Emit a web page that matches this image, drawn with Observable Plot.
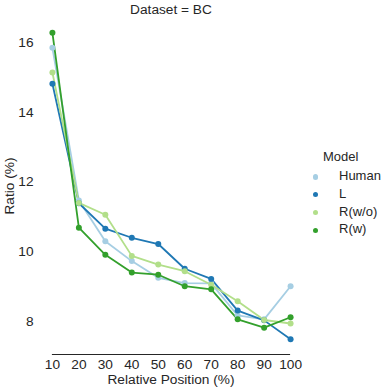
<!DOCTYPE html>
<html>
<head>
<meta charset="utf-8">
<script src="https://cdn.jsdelivr.net/npm/d3@7"></script>
<script src="https://cdn.jsdelivr.net/npm/@observablehq/plot@0.6"></script>
<style>
  html, body { margin: 0; padding: 0; background: #fff; }
  #wrap { position: relative; width: 391px; height: 391px; font-family: "Liberation Sans", Arial, sans-serif; color: #262626; }
  .lab { position: absolute; font-size: 13.7px; white-space: nowrap; line-height: 1.12; }
  .leg { font-size: 13px; }
  #chart { position: absolute; left: 0; top: 0; }
</style>
</head>
<body>
<div id="wrap">
  <div id="chart"></div>
</div>
<script>
const title = "Dataset = BC";
const xLabel = "Relative Position (%)";
const yLabel = "Ratio (%)";
const legendTitle = "Model";
const positions = [10, 20, 30, 40, 50, 60, 70, 80, 90, 100];
const yTicks = [8, 10, 12, 14, 16];
const models = ["Human", "L", "R(w/o)", "R(w)"];
const colors = ["#a6cee3", "#1f78b4", "#b2df8a", "#33a02c"];
const human = [15.85, 11.47, 10.30, 9.73, 9.25, 9.10, 9.09, 8.17, 8.06, 9.01];
const modelL = [14.82, 11.39, 10.66, 10.40, 10.22, 9.51, 9.22, 8.31, 8.03, 7.49];
const rwo = [15.14, 11.40, 11.06, 9.88, 9.63, 9.44, 9.05, 8.58, 8.04, 7.94];
const rw = [16.28, 10.69, 9.91, 9.40, 9.34, 9.01, 8.92, 8.06, 7.82, 8.12];

const series = [human, modelL, rwo, rw];
const rows = [];
models.forEach((m, i) => positions.forEach((p, j) => rows.push({model: m, x: p, y: series[i][j]})));

const allY = rows.map(d => d.y);
const yMin = d3.min(allY), yMax = d3.max(allY);
const pad = (yMax - yMin) * 0.05;
const yDomain = [yMin - pad, yMax + pad];
const xSpan = d3.max(positions) - d3.min(positions);
const xDomain = [d3.min(positions) - xSpan * 0.05, d3.max(positions) + xSpan * 0.05];

const W = 391, H = 391, mL = 40, mR = 89, mT = 17, mB = 37;

const plot = Plot.plot({
  width: W, height: H,
  marginLeft: mL, marginRight: mR, marginTop: mT, marginBottom: mB,
  style: {fontSize: "13.7px", fontFamily: "'Liberation Sans', Arial, sans-serif", color: "#262626", background: "white"},
  x: {domain: xDomain},
  y: {domain: yDomain},
  color: {domain: models, range: colors},
  marks: [
    Plot.axisX({ticks: positions, tickSize: 0, tickPadding: 5, label: null}),
    Plot.axisY({ticks: yTicks, tickSize: 0, tickPadding: 7, label: null}),
    Plot.ruleY([yDomain[0]], {x1: d3.min(positions), x2: d3.max(positions), stroke: "#262626", strokeWidth: 1.1}),
    Plot.line(rows, {x: "x", y: "y", stroke: "model", z: "model", strokeWidth: 1.8}),
    Plot.dot(rows, {x: "x", y: "y", fill: "model", r: 3})
  ]
});
document.getElementById("chart").appendChild(plot);

const wrap = document.getElementById("wrap");
const cx = mL + (W - mL - mR) / 2;
function addLabel(text, left, top, extra, cls) {
  const d = document.createElement("div");
  d.className = "lab" + (cls ? " " + cls : "");
  d.textContent = text;
  d.style.left = left + "px";
  d.style.top = top + "px";
  if (extra) Object.assign(d.style, extra);
  wrap.appendChild(d);
  return d;
}
addLabel(title, cx, 2, {transform: "translateX(-50%)"});
addLabel(xLabel, cx, 372, {transform: "translateX(-50%)"});
addLabel(yLabel, 10, mT + (H - mT - mB) / 2, {transform: "translate(-50%, -50%) rotate(-90deg)"});

addLabel(legendTitle, 323, 150, null, "leg");
models.forEach((m, i) => {
  const top = 169 + i * 17.8;
  addLabel(m, 339, top, null, "leg");
  const dot = document.createElement("div");
  Object.assign(dot.style, {position: "absolute", left: (315.5 - 2.7) + "px", top: (top + 8 - 2.7) + "px", width: "5.4px", height: "5.4px", borderRadius: "50%", background: colors[i]});
  wrap.appendChild(dot);
});
</script>
</body>
</html>
